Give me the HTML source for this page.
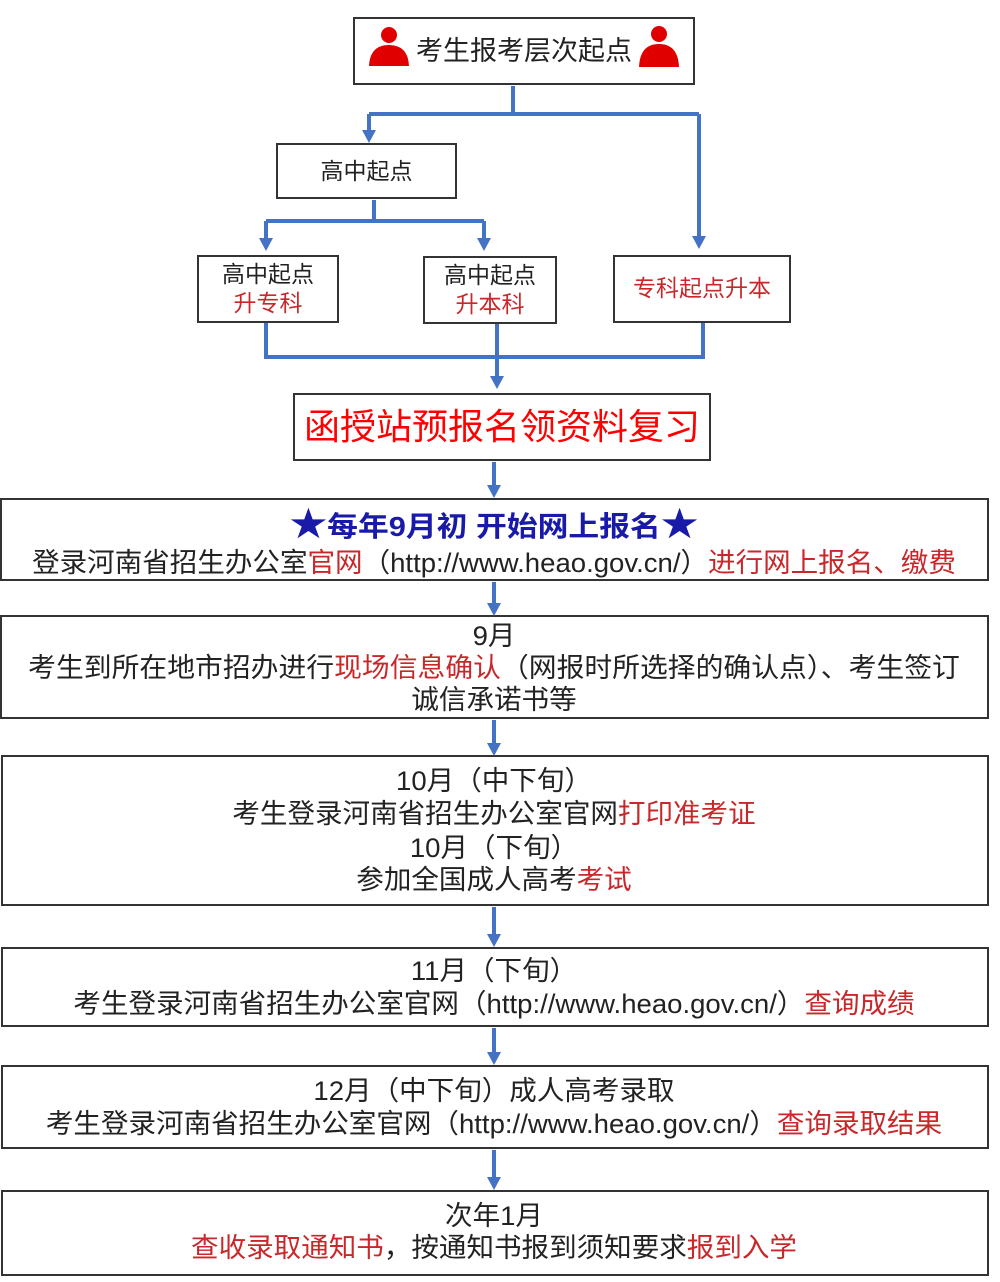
<!DOCTYPE html>
<html><head><meta charset="utf-8"><style>
html,body{margin:0;padding:0;background:#fff;}
body{width:1000px;height:1282px;position:relative;overflow:hidden;font-family:"Liberation Sans","Noto Sans CJK SC",sans-serif;color:#222;}
.b{position:absolute;border:2px solid #333;box-sizing:border-box;background:#fff;}
.t{position:absolute;left:0;width:988px;text-align:center;height:34px;line-height:34px;font-size:27px;white-space:nowrap;transform:scaleX(1.02);transform-origin:494px 0;}
.r{color:#c8282a;}
svg{position:absolute;left:0;top:0;}
</style></head><body>
<div class="b" style="left:353px;top:17px;width:342px;height:68px;"></div>
<div class="b" style="left:276px;top:143px;width:181px;height:56px;"></div>
<div class="b" style="left:197px;top:255px;width:142px;height:68px;"></div>
<div class="b" style="left:423px;top:256px;width:134px;height:68px;"></div>
<div class="b" style="left:613px;top:255px;width:178px;height:68px;"></div>
<div class="b" style="left:293px;top:393px;width:418px;height:68px;"></div>
<div class="b" style="left:0;top:498px;width:989px;height:83px;"></div>
<div class="b" style="left:0;top:615px;width:989px;height:104px;"></div>
<div class="b" style="left:1px;top:755px;width:988px;height:151px;"></div>
<div class="b" style="left:1px;top:947px;width:988px;height:80px;"></div>
<div class="b" style="left:1px;top:1065px;width:988px;height:84px;"></div>
<div class="b" style="left:1px;top:1190px;width:988px;height:86px;"></div>

<svg width="1000" height="1282">
<g stroke="#4472c4" stroke-width="4" fill="none">
<path d="M513 86V114M369 114H699M369 114V132M699 114V238"/>
<path d="M374 200V221M266 221H484M266 221V240M484 221V240"/>
<path d="M266 323V357H703V323M497 324V378"/>
<path d="M494 462V486M494 582V604M494 720V744M494 907V934M494 1028V1053M494 1150V1178"/>
</g>
<g fill="#4472c4">
<path d="M362 130h14l-7 13z"/><path d="M692 236h14l-7 13z"/>
<path d="M259 238h14l-7 13z"/><path d="M477 238h14l-7 13z"/>
<path d="M490 376h14l-7 13z"/>
<path d="M487 485h14l-7 13z"/><path d="M487 603h14l-7 13z"/><path d="M487 743h14l-7 13z"/>
<path d="M487 934h14l-7 13z"/><path d="M487 1052h14l-7 13z"/><path d="M487 1177h14l-7 13z"/>
</g>
<g fill="#e00000">
<circle cx="389" cy="35" r="8"/><path d="M369 66Q370 45 389 45Q408 45 409 66Z"/>
<circle cx="659" cy="34" r="8"/><path d="M639 67Q640 44 659 44Q678 44 679 67Z"/>
</g>
</svg>

<div style="position:absolute;left:353px;top:34px;width:342px;text-align:center;font-size:27px;line-height:34px;color:#222;">考生报考层次起点</div>
<div style="position:absolute;left:276px;top:157px;width:181px;text-align:center;font-size:23px;line-height:28px;">高中起点</div>
<div style="position:absolute;left:197px;top:260px;width:142px;text-align:center;font-size:23px;line-height:29px;">高中起点<br><span class="r">升专科</span></div>
<div style="position:absolute;left:423px;top:261px;width:134px;text-align:center;font-size:23px;line-height:29px;">高中起点<br><span class="r">升本科</span></div>
<div style="position:absolute;left:613px;top:274px;width:178px;text-align:center;font-size:23px;line-height:29px;" class="r">专科起点升本</div>
<div style="position:absolute;left:293px;top:405px;width:418px;text-align:center;font-size:36px;line-height:44px;color:#ff0000;">函授站预报名领资料复习</div>

<div class="t" style="top:508px;color:#1a1aa8;font-weight:bold;font-size:28px;transform:scaleX(1.1);"><span style="font-size:34px;">★</span>每年9月初 开始网上报名<span style="font-size:34px;">★</span></div>
<div class="t" style="top:546px;">登录河南省招生办公室<span class="r">官网</span>（http://www.heao.gov.cn/）<span class="r">进行网上报名、缴费</span></div>

<div class="t" style="top:619px;">9月</div>
<div class="t" style="top:651px;transform:scaleX(1.03);">考生到所在地市招办进行<span class="r">现场信息确认</span>（网报时所选择的确认点）、考生签订</div>
<div class="t" style="top:683px;">诚信承诺书等</div>

<div class="t" style="top:764px;">10月（中下旬）</div>
<div class="t" style="top:797px;">考生登录河南省招生办公室官网<span class="r">打印准考证</span></div>
<div class="t" style="top:831px;">10月（下旬）</div>
<div class="t" style="top:863px;">参加全国成人高考<span class="r">考试</span></div>

<div class="t" style="top:954px;">11月（下旬）</div>
<div class="t" style="top:987px;">考生登录河南省招生办公室官网（http://www.heao.gov.cn/）<span class="r">查询成绩</span></div>

<div class="t" style="top:1074px;">12月（中下旬）成人高考录取</div>
<div class="t" style="top:1107px;">考生登录河南省招生办公室官网（http://www.heao.gov.cn/）<span class="r">查询录取结果</span></div>

<div class="t" style="top:1199px;">次年1月</div>
<div class="t" style="top:1231px;"><span class="r">查收录取通知书</span>，按通知书报到须知要求<span class="r">报到入学</span></div>
</body></html>
